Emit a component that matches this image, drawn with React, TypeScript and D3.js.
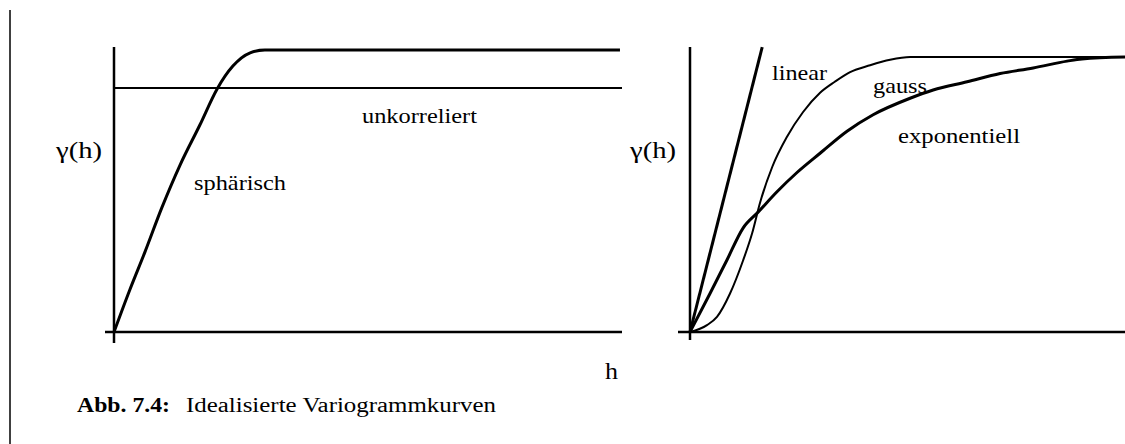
import React from "react";
import * as d3 from "d3";

// ---- data (h, gamma) ----
const sphericalH = [0, 0.31, 0.61, 0.94, 1.3, 1.69, 2.03, 2.34, 2.68, 2.97, 9.96];
const sphericalG = [0, 0.149, 0.284, 0.44, 0.592, 0.734, 0.862, 0.943, 0.99, 1.0, 1.0];
const nuggetH = [0, 10];
const nuggetG = [0.865, 0.865];

const linearH = [0, 1.66];
const linearG = [0, 1.036];
const gaussH = [0, 0.39, 0.62, 0.92, 1.22, 1.43, 1.61, 1.89, 2.23, 2.6, 2.99, 3.33, 3.68, 4.14, 4.6, 5.06, 10];
const gaussG = [0, 0.025, 0.055, 0.14, 0.26, 0.36, 0.47, 0.6, 0.71, 0.8, 0.87, 0.91, 0.945, 0.97, 0.99, 1.0, 1.0];
const expH = [0, 0.46, 0.85, 1.22, 1.56, 2.0, 2.46, 2.99, 3.61, 4.21, 5.06, 5.59, 6.37, 7.13, 7.89, 8.67, 9.01, 10];
const expG = [0, 0.14, 0.262, 0.378, 0.435, 0.51, 0.58, 0.65, 0.73, 0.79, 0.85, 0.88, 0.91, 0.94, 0.96, 0.985, 0.993, 1.0];

const leftLabels = { yLabel: "γ(h)", xLabel: "h", spherical: "sphärisch", nugget: "unkorreliert" };
const rightLabels = { yLabel: "γ(h)", linear: "linear", gauss: "gauss", exp: "exponentiell" };
const captionBold = "Abb. 7.4:";
const captionText = "Idealisierte Variogrammkurven";

const zip = (xs: number[], ys: number[]) => xs.map((x, i) => [x, ys[i]] as [number, number]);

export default function App() {
  const W = 1125, H = 444;
  const font = "'Liberation Serif', 'Times New Roman', serif";

  const xL = d3.scaleLinear().domain([0, 10]).range([114, 622]);
  const yL = d3.scaleLinear().domain([0, 1]).range([332, 50]);
  const xR = d3.scaleLinear().domain([0, 10]).range([690, 1125]);
  const yR = d3.scaleLinear().domain([0, 1]).range([332, 57]);

  const lineL = d3.line<[number, number]>().x(d => xL(d[0])).y(d => yL(d[1])).curve(d3.curveMonotoneX);
  const lineR = d3.line<[number, number]>().x(d => xR(d[0])).y(d => yR(d[1])).curve(d3.curveMonotoneX);
  const straightR = d3.line<[number, number]>().x(d => xR(d[0])).y(d => yR(d[1]));

  return (
    <svg width={W} height={H} style={{ position: "absolute", left: 0, top: 0, background: "#fff" }}>
      <rect x={0} y={0} width={W} height={H} fill="#fff" />
      {/* page border line */}
      <line x1={10} y1={10} x2={10} y2={H} stroke="#000" strokeWidth={1.5} />

      {/* ---- left panel ---- */}
      <line x1={xL(0)} y1={47} x2={xL(0)} y2={343} stroke="#000" strokeWidth={2.5} />
      <line x1={xL(0) - 9} y1={yL(0)} x2={xL(10)} y2={yL(0)} stroke="#000" strokeWidth={2.5} />
      <path d={lineL(zip(nuggetH, nuggetG)) || ""} fill="none" stroke="#000" strokeWidth={2} />
      <path d={lineL(zip(sphericalH, sphericalG)) || ""} fill="none" stroke="#000" strokeWidth={3} />

      <text x={56} y={158} fontFamily={font} fontSize={23} textLength={46} lengthAdjust="spacingAndGlyphs">{leftLabels.yLabel}</text>
      <text x={194} y={190} fontFamily={font} fontSize={21} textLength={92} lengthAdjust="spacingAndGlyphs">{leftLabels.spherical}</text>
      <text x={362} y={123} fontFamily={font} fontSize={21} textLength={115} lengthAdjust="spacingAndGlyphs">{leftLabels.nugget}</text>
      <text x={605} y={379} fontFamily={font} fontSize={24} textLength={13} lengthAdjust="spacingAndGlyphs">{leftLabels.xLabel}</text>

      <text x={77} y={412} fontFamily={font} fontSize={20} fontWeight="bold" textLength={93} lengthAdjust="spacingAndGlyphs">{captionBold}</text>
      <text x={186} y={412} fontFamily={font} fontSize={20} textLength={310} lengthAdjust="spacingAndGlyphs">{captionText}</text>

      {/* ---- right panel ---- */}
      <line x1={xR(0)} y1={47} x2={xR(0)} y2={340} stroke="#000" strokeWidth={2.5} />
      <line x1={xR(0) - 12} y1={yR(0)} x2={xR(10)} y2={yR(0)} stroke="#000" strokeWidth={2.5} />
      <path d={straightR(zip(linearH, linearG)) || ""} fill="none" stroke="#000" strokeWidth={3} />
      <path d={lineR(zip(gaussH, gaussG)) || ""} fill="none" stroke="#000" strokeWidth={2} />
      <path d={lineR(zip(expH, expG)) || ""} fill="none" stroke="#000" strokeWidth={3} />

      <text x={630} y={158} fontFamily={font} fontSize={23} textLength={46} lengthAdjust="spacingAndGlyphs">{rightLabels.yLabel}</text>
      <text x={772} y={80} fontFamily={font} fontSize={21} textLength={55} lengthAdjust="spacingAndGlyphs">{rightLabels.linear}</text>
      <text x={873} y={93} fontFamily={font} fontSize={21} textLength={54} lengthAdjust="spacingAndGlyphs">{rightLabels.gauss}</text>
      <text x={898} y={143} fontFamily={font} fontSize={21} textLength={122} lengthAdjust="spacingAndGlyphs">{rightLabels.exp}</text>
    </svg>
  );
}
